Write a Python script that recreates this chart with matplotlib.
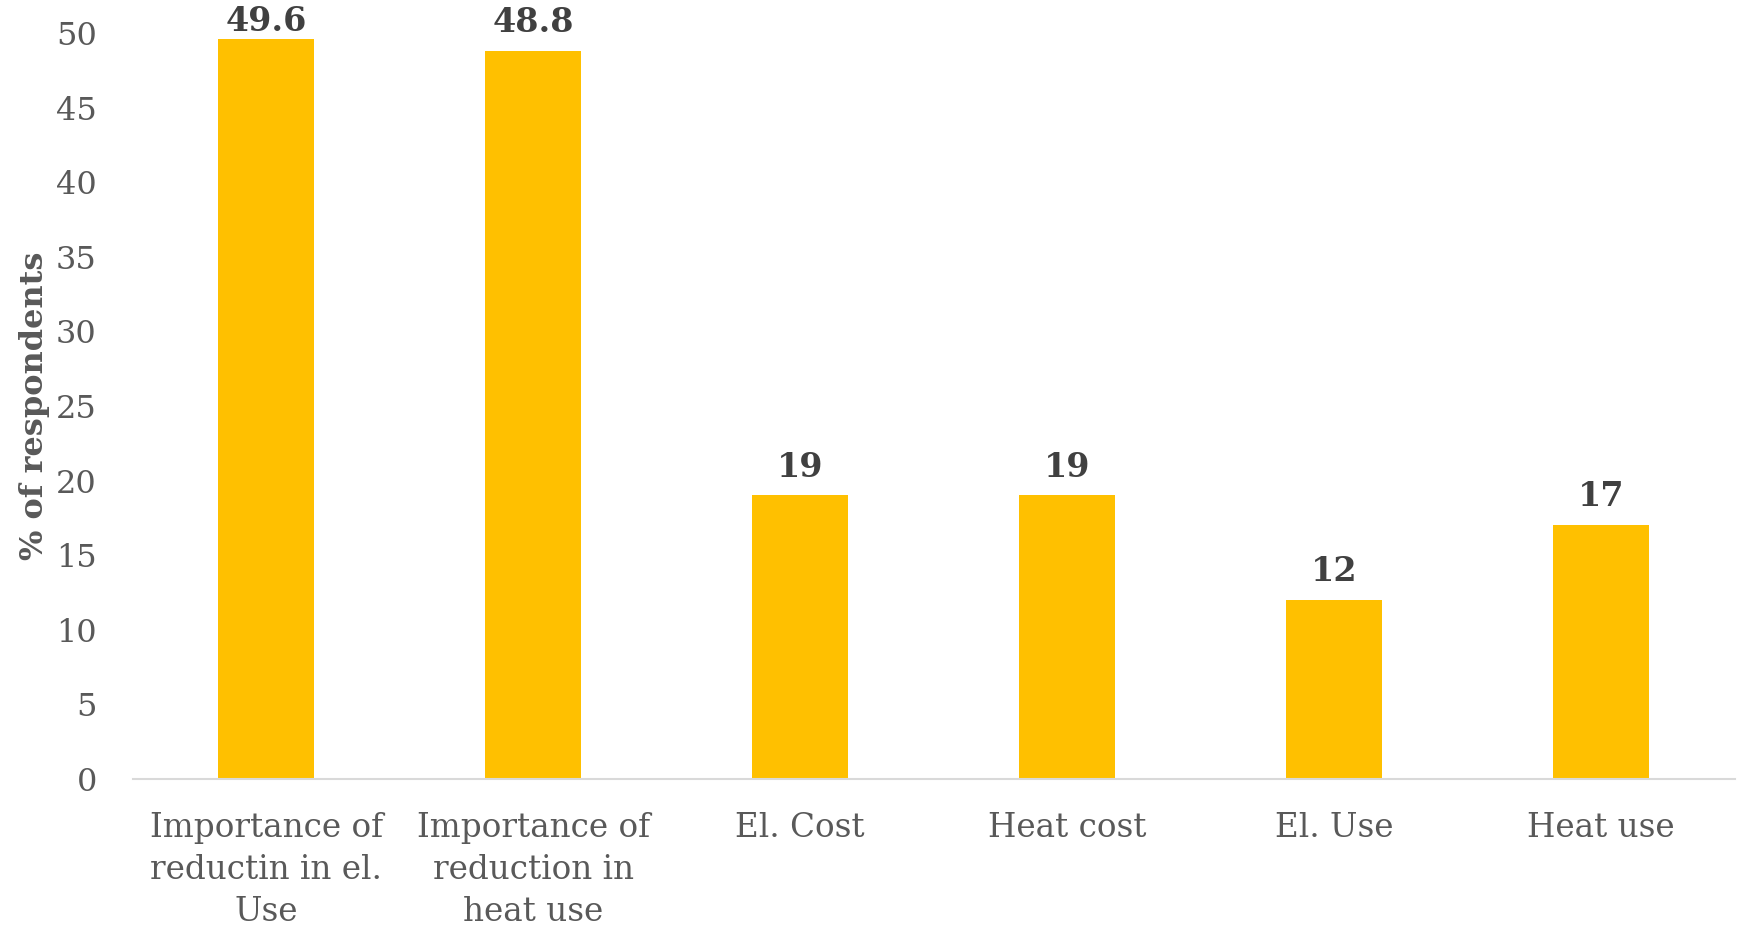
import matplotlib.pyplot as plt

categories = ['Importance of\nreductin in el.\nUse', 'Importance of\nreduction in\nheat use',
              'El. Cost', 'Heat cost', 'El. Use', 'Heat use']
values = [49.6, 48.8, 19, 19, 12, 17]
value_labels = ['49.6', '48.8', '19', '19', '12', '17']
yticks = [0, 5, 10, 15, 20, 25, 30, 35, 40, 45, 50]

plt.rcParams['font.family'] = ['DejaVu Serif']

fig = plt.figure(figsize=(17.38, 9.27), dpi=100)
ax = fig.add_axes([0.0765, 0.160, 0.9215, 0.804])

x = range(len(categories))
ax.bar(x, values, width=0.36, color='#FFC000', zorder=2)

# value labels above the bars, kept inside the figure for the tallest ones
for i, (v, lab) in enumerate(zip(values, value_labels)):
    ax.text(i, min(v + 1.9, 50.8), lab, ha='center', va='center',
            fontsize=24, fontweight='bold', color='#404040', clip_on=False)

ax.set_xlim(-0.5, 5.5)
ax.set_ylim(0, 50)
ax.set_yticks(yticks)
ax.set_xticks(list(x))
ax.set_xticklabels(categories, fontsize=23.5, color='#595959', linespacing=1.4)
ax.tick_params(axis='y', length=0, pad=26, labelsize=23, labelcolor='#595959')
ax.tick_params(axis='x', length=0, pad=24)

for side in ['top', 'right', 'left']:
    ax.spines[side].set_visible(False)
ax.spines['bottom'].set_color('#D9D9D9')
ax.spines['bottom'].set_linewidth(1.5)

ax.set_ylabel('% of respondents', fontsize=23, fontweight='bold', color='#595959')
ax.yaxis.set_label_coords(-0.052, 0.5)

fig.savefig('out.png', dpi=100)
